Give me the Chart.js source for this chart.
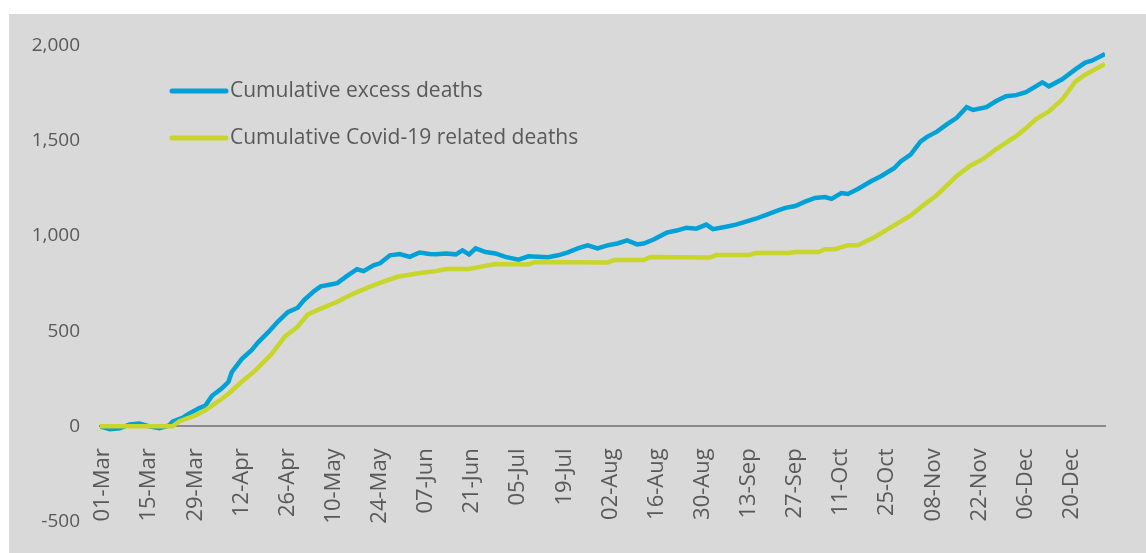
<!DOCTYPE html>
<html>
<head>
<meta charset="utf-8">
<script src="https://cdn.jsdelivr.net/npm/chart.js@4.4.0/dist/chart.umd.min.js"></script>
<style>
  body { margin: 0; background: #fff; }
  #wrap { position: absolute; left: 9px; top: 14px; width: 1137px; height: 539px; background: #d9d9d9; }
</style>
</head>
<body>
<div id="wrap"><canvas id="deathsChart"></canvas></div>
<script>
// tick labels, one every 14 days starting 01-Mar (day 0)
const tickLabels = ['01-Mar', '15-Mar', '29-Mar', '12-Apr', '26-Apr', '10-May', '24-May', '07-Jun',
    '21-Jun', '05-Jul', '19-Jul', '02-Aug', '16-Aug', '30-Aug', '13-Sep', '27-Sep', '11-Oct',
    '25-Oct', '08-Nov', '22-Nov', '06-Dec', '20-Dec'];
const tickDays = [0, 14, 28, 42, 56, 70, 84, 98, 112, 126, 140, 154, 168, 182, 196, 210, 224,
    238, 252, 266, 280, 294];
const lastDay = 305; // 31-Dec

// Cumulative excess deaths (day since 01-Mar, value)
const excessDays = [0, 3, 6, 9, 12, 15, 18, 21, 22, 25, 27, 30, 32, 34, 37, 39, 40, 43, 46, 48,
    51, 54, 57, 60, 62, 65, 67, 70, 72, 75, 78, 80, 83, 85, 88, 91, 94, 97, 100, 102, 105, 108,
    110, 112, 114, 117, 120, 123, 127, 130, 133, 136, 139, 142, 145, 148, 151, 154, 157, 160,
    163, 165, 168, 172, 175, 178, 181, 184, 186, 190, 193, 196, 199, 203, 206, 208, 211, 214,
    217, 220, 222, 225, 227, 230, 234, 237, 241, 243, 246, 249, 251, 254, 257, 260, 263, 265,
    269, 272, 275, 278, 281, 284, 286, 288, 292, 296, 299, 301, 305];
const excessValues = [0, -15, -10, 10, 15, 0, -10, 5, 25, 45, 67, 95, 109, 161, 200, 234, 285,
    353, 400, 441, 493, 550, 600, 623, 664, 710, 735, 745, 752, 790, 825, 815, 845, 856, 898,
    905, 890, 913, 905, 903, 908, 903, 924, 903, 934, 915, 908, 890, 875, 893, 890, 888, 898,
    913, 934, 950, 934, 950, 960, 976, 955, 960, 981, 1017, 1028, 1043, 1038, 1059, 1035, 1048,
    1059, 1075, 1090, 1116, 1135, 1147, 1157, 1180, 1199, 1204, 1194, 1225, 1220, 1246, 1287,
    1313, 1355, 1391, 1427, 1495, 1520, 1547, 1585, 1620, 1676, 1661, 1676, 1708, 1733, 1739,
    1754, 1785, 1806, 1785, 1822, 1874, 1910, 1920, 1955];

// Cumulative Covid-19 related deaths
const covidDays = [0, 22, 24, 26, 29, 32, 34, 37, 39, 43, 47, 52, 56, 59, 60, 63, 67, 72, 76,
    81, 85, 90, 97, 102, 105, 112, 115, 120, 130, 132, 154, 156, 165, 167, 185, 187, 197, 199,
    209, 211, 218, 220, 223, 227, 230, 235, 240, 246, 249, 254, 260, 264, 268, 272, 278, 281,
    284, 288, 292, 296, 299, 305];
const covidValues = [0, 0, 26, 40, 57, 85, 109, 145, 171, 234, 291, 378, 470, 510, 524, 587,
    618, 654, 690, 727, 753, 784, 805, 815, 826, 826, 836, 852, 850, 863, 860, 873, 873, 889,
    886, 899, 899, 910, 910, 915, 915, 930, 930, 951, 951, 993, 1045, 1107, 1149, 1215, 1315,
    1367, 1404, 1456, 1523, 1565, 1612, 1654, 1716, 1810, 1846, 1903];

const textColor = '#595959';
const fontFamily = '"Open Sans", sans-serif';

function toPoints(days, values) {
    return days.map((d, i) => ({ x: d, y: values[i] }));
}

// legend drawn inside the plot, top left
const innerLegend = {
    id: 'innerLegend',
    afterDraw(chart) {
        const ctx = chart.ctx;
        const rows = [77, 124];
        ctx.save();
        ctx.font = '21px ' + fontFamily;
        ctx.textBaseline = 'middle';
        ctx.lineCap = 'round';
        chart.data.datasets.forEach((ds, i) => {
            ctx.strokeStyle = ds.borderColor;
            ctx.lineWidth = 5;
            ctx.beginPath();
            ctx.moveTo(163, rows[i]);
            ctx.lineTo(217, rows[i]);
            ctx.stroke();
            ctx.fillStyle = textColor;
            ctx.fillText(ds.label, 221, rows[i]);
        });
        ctx.restore();
    }
};

const ctx = document.getElementById('deathsChart').getContext('2d');
new Chart(ctx, {
    type: 'line',
    data: {
        datasets: [{
            label: 'Cumulative excess deaths',
            data: toPoints(excessDays, excessValues),
            borderColor: '#00a0d8',
            borderWidth: 4.5,
            pointRadius: 0,
            tension: 0,
            order: 1
        }, {
            label: 'Cumulative Covid-19 related deaths',
            data: toPoints(covidDays, covidValues),
            borderColor: '#c8d52a',
            borderWidth: 4.5,
            pointRadius: 0,
            tension: 0,
            order: 0
        }]
    },
    options: {
        responsive: true,
        maintainAspectRatio: false,
        animation: false,
        layout: { padding: { top: 31, right: 41, bottom: 29, left: 0 } },
        plugins: {
            legend: { display: false },
            tooltip: { enabled: false }
        },
        scales: {
            x: {
                type: 'linear',
                min: 0,
                max: lastDay,
                position: { y: 0 },
                grid: { display: false, drawTicks: false },
                border: { display: true, color: '#8a8a8a', width: 2 },
                afterBuildTicks: function (axis) {
                    axis.ticks = tickDays.map(v => ({ value: v }));
                },
                ticks: {
                    autoSkip: false,
                    maxRotation: 90,
                    minRotation: 90,
                    padding: 22,
                    labelOffset: 3,
                    color: textColor,
                    font: { family: fontFamily, size: 22 },
                    callback: function (value) {
                        const i = tickDays.indexOf(value);
                        return i >= 0 ? tickLabels[i] : '';
                    }
                }
            },
            y: {
                min: -500,
                max: 2000,
                grid: { display: false, drawTicks: false },
                border: { display: false },
                afterFit: function (axis) { axis.width = 91; },
                ticks: {
                    stepSize: 500,
                    padding: 20,
                    color: textColor,
                    font: { family: fontFamily, size: 19 },
                    callback: function (value) {
                        return value.toLocaleString('en-US');
                    }
                }
            }
        }
    },
    plugins: [innerLegend]
});
</script>
</body>
</html>
